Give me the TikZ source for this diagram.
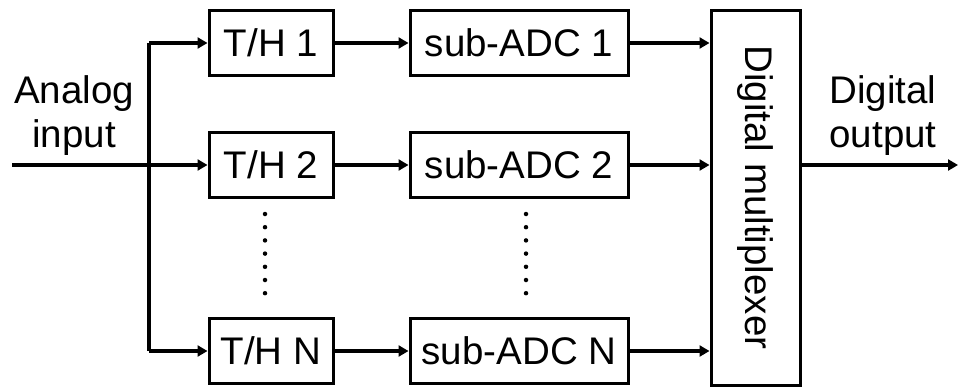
\documentclass[tikz,border=0pt]{standalone}
\usepackage{fontspec}
\setmainfont{Liberation Sans}
\usetikzlibrary{arrows.meta}
\begin{document}
\begin{tikzpicture}[x=1pt,y=-1pt,
  font=\fontsize{38.5}{44}\selectfont,
  box/.style={draw=black, line width=3pt, inner sep=0pt, minimum height=65pt},
  thbox/.style={box, minimum width=124pt},
  adcbox/.style={box, minimum width=218pt},
  wire/.style={line width=3.4pt},
  arr/.style={wire, -{Triangle[length=10pt,width=11pt]}},
  dotmark/.style={fill=black, circle, inner sep=0pt, minimum size=4.5pt}
]
\useasboundingbox (0,0) rectangle (959,388);

% track-and-hold stages
\node[thbox] (th1) at (271,43) {T/H 1};
\node[thbox] (th2) at (271,165) {T/H 2};
\node[thbox] (thn) at (271,351) {T/H N};

% sub-converters
\node[adcbox] (adc1) at (519,43) {sub-ADC 1};
\node[adcbox] (adc2) at (519,165) {sub-ADC 2};
\node[adcbox] (adcn) at (519,351) {sub-ADC N};

% output multiplexer
\node[box, minimum width=89pt, minimum height=375pt] (mux) at (755.5,197.5) {};
\node[rotate=-90] (muxlabel) at (mux.center) {Digital multiplexer};

% input distribution
\coordinate (in) at (12,165);
\coordinate (top) at (149,43);
\coordinate (bot) at (149,351);
\coordinate (out) at (958,165);

\node[align=center, anchor=base] (inlabel) at (74,147) {Analog\\input};
\node[align=center, anchor=base] (outlabel) at (883,147) {Digital\\output};

\draw[arr] (in) -- (th2);
\draw[wire] (top) -- (bot);
\draw[arr] (top) -- (th1);
\draw[arr] (bot) -- (thn);

\draw[arr] (th1) -- (adc1);
\draw[arr] (th2) -- (adc2);
\draw[arr] (thn) -- (adcn);

\draw[arr] (adc1.east) -- (adc1.east -| mux.west);
\draw[arr] (adc2.east) -- (adc2.east -| mux.west);
\draw[arr] (adcn.east) -- (adcn.east -| mux.west);

\draw[arr] (mux.east |- out) -- (out);

% ellipsis between stage 2 and stage N
\foreach \k in {0,...,6} {
  \node[dotmark] (thdot\k) at (265,{214+13.2*\k}) {};
  \node[dotmark] (adcdot\k) at (526,{214+13.2*\k}) {};
}
\end{tikzpicture}
\end{document}
